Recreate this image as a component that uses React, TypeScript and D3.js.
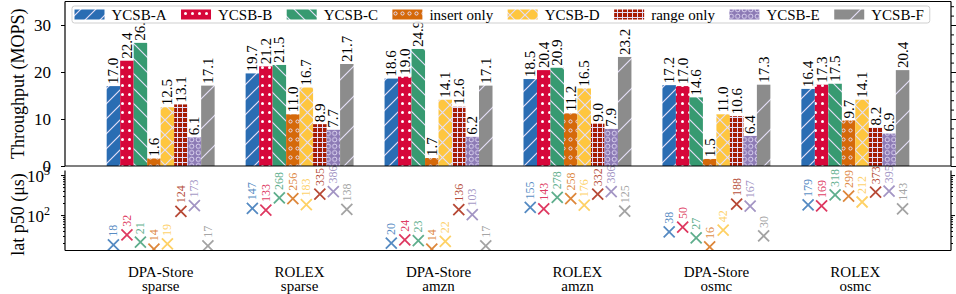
import React, { useEffect, useRef } from 'react';
import * as d3 from 'd3';

const systems = ['DPA-Store', 'ROLEX', 'DPA-Store', 'ROLEX', 'DPA-Store', 'ROLEX'];
const datasets = ['sparse', 'sparse', 'amzn', 'amzn', 'osmc', 'osmc'];
const workloads = ['YCSB-A', 'YCSB-B', 'YCSB-C', 'insert only', 'YCSB-D', 'range only', 'YCSB-E', 'YCSB-F'];
const colors = ['#2a6db3', '#d6073a', '#379a71', '#d5690a', '#fec63f', '#a51b04', '#8c7ab5', '#8c8c8c'];
const hatches = ['//', '.', '\\\\', 'o', 'x', '+', 'O', '/'];

// throughput in MOPS, one row per group, one entry per workload
const throughput = [
  [17.0, 22.4, 26.2, 1.6, 12.5, 13.1, 6.1, 17.1],
  [19.7, 21.2, 21.5, 11.0, 16.7, 8.9, 7.7, 21.7],
  [18.6, 19.0, 24.9, 1.7, 14.1, 12.6, 6.2, 17.1],
  [18.5, 20.4, 20.9, 11.2, 16.5, 9.0, 7.9, 23.2],
  [17.2, 17.0, 14.6, 1.5, 11.0, 10.6, 6.4, 17.3],
  [16.4, 17.3, 17.5, 9.7, 14.1, 8.2, 6.9, 20.4],
];

// median latency in microseconds
const latencyP50 = [
  [18, 32, 21, 14, 19, 124, 173, 17],
  [147, 133, 268, 256, 183, 335, 386, 138],
  [20, 24, 23, 14, 22, 136, 103, 17],
  [155, 143, 278, 258, 176, 332, 386, 125],
  [38, 50, 27, 16, 42, 188, 167, 30],
  [179, 169, 318, 299, 212, 373, 395, 143],
];

const throughputTicks = [0, 10, 20, 30];
const throughputMinor = d3.range(0, 35, 2);
const latencyTicks = [100, 1000];
const latencyMinor = [20, 30, 40, 50, 60, 70, 80, 90, 200, 300, 400, 500, 600, 700, 800, 900];

const W = 956;
const H = 294;
const FONT = "'Liberation Serif', 'DejaVu Serif', serif";
const INK = '#e4def7';

const left = 65;
const right = 951;
const top1 = 1.5;
const bottom1 = 166;
const top2 = 170.5;
const bottom2 = 250.5;

function addPatterns(defs) {
  hatches.forEach((h, i) => {
    const id = `hatch-${i}`;
    let w = 15;
    let ht = 15;
    if (h === '/') { w = 30; ht = 30; }
    if (h === '.') { w = 7; ht = 9; }
    if (h === 'o') { w = 7; ht = 9; }
    if (h === '+') { w = 5; ht = 5; }
    if (h === 'O') { w = 6.5; ht = 6.5; }
    const p = defs
      .append('pattern')
      .attr('id', id)
      .attr('patternUnits', 'userSpaceOnUse')
      .attr('width', w)
      .attr('height', ht);
    p.append('rect').attr('width', w).attr('height', ht).attr('fill', colors[i]);
    const s = w;
    const fwd = `M0,${s}L${s},0M${-s / 2},${s / 2}L${s / 2},${-s / 2}M${s / 2},${1.5 * s}L${1.5 * s},${s / 2}`;
    const back = `M0,0L${s},${s}M${-s / 2},${s / 2}L${s / 2},${1.5 * s}M${s / 2},${-s / 2}L${1.5 * s},${s / 2}`;
    if (h === '//' || h === '/') {
      p.append('path').attr('d', fwd).attr('stroke', INK).attr('stroke-width', 1.2);
    } else if (h === '\\\\') {
      p.append('path').attr('d', back).attr('stroke', INK).attr('stroke-width', 1.2);
    } else if (h === 'x') {
      p.append('path').attr('d', fwd + back).attr('stroke', INK).attr('stroke-width', 1.2);
    } else if (h === '.') {
      p.append('circle').attr('cx', w / 2).attr('cy', ht / 2).attr('r', 1.5).attr('fill', '#fff');
    } else if (h === 'o') {
      p.append('circle').attr('cx', w / 2).attr('cy', ht / 2).attr('r', 1.6)
        .attr('fill', 'none').attr('stroke', INK).attr('stroke-width', 1);
    } else if (h === 'O') {
      p.append('circle').attr('cx', w / 2).attr('cy', ht / 2).attr('r', 2.2)
        .attr('fill', 'none').attr('stroke', INK).attr('stroke-width', 0.9);
    } else if (h === '+') {
      p.append('path').attr('d', `M0,${ht / 2}H${w}M${w / 2},0V${ht}`)
        .attr('stroke', INK).attr('stroke-width', 1);
    }
  });
}

function styleAxis(g, fontSize = 17) {
  g.select('.domain').remove();
  g.selectAll('line').attr('stroke', '#000').attr('stroke-width', 1);
  g.selectAll('text').attr('font-family', FONT).attr('font-size', fontSize).attr('fill', '#000');
}

export default function App() {
  const ref = useRef<SVGSVGElement>(null);

  useEffect(() => {
    const svg = d3.select(ref.current);
    svg.selectAll('*').remove();
    addPatterns(svg.append('defs'));

    const x0 = d3.scaleBand<number>()
      .domain(d3.range(systems.length))
      .range([left, right])
      .paddingInner(0.223)
      .paddingOuter(0.3);
    const x1 = d3.scaleBand<string>().domain(workloads).range([0, x0.bandwidth()]);
    const y = d3.scaleLinear().domain([0, 35]).range([bottom1, top1]);
    const yLat = d3.scaleLog().domain([13, 1300]).range([bottom2, top2]);
    const cx = (gi, i) => x0(gi) + x1(workloads[i]) + x1.bandwidth() / 2;

    svg.append('clipPath').attr('id', 'lat-clip')
      .append('rect')
      .attr('x', left).attr('y', top2)
      .attr('width', right - left).attr('height', bottom2 - top2);

    // ---- bottom panel: latency markers ----
    const marks = svg.append('g').attr('clip-path', 'url(#lat-clip)');
    const labels = svg.append('g');
    latencyP50.forEach((row, gi) => {
      marks.selectAll(`path.mk-${gi}`)
        .data(row)
        .enter()
        .append('path')
        .attr('class', `mk-${gi}`)
        .attr('d', (d, i) => {
          const px = cx(gi, i);
          const py = yLat(d);
          const r = 5.5;
          return `M${px - r},${py - r}L${px + r},${py + r}M${px - r},${py + r}L${px + r},${py - r}`;
        })
        .attr('stroke', (d, i) => colors[i])
        .attr('stroke-opacity', 0.8)
        .attr('stroke-width', 1.8)
        .attr('fill', 'none');
      labels.selectAll(`text.lv-${gi}`)
        .data(row)
        .enter()
        .append('text')
        .attr('class', `lv-${gi}`)
        .attr('transform', (d, i) => `translate(${cx(gi, i)},${yLat(d) - 8}) rotate(-90)`)
        .attr('dominant-baseline', 'central')
        .attr('font-family', FONT)
        .attr('font-size', 12)
        .attr('fill', (d, i) => colors[i])
        .attr('fill-opacity', 0.8)
        .text((d) => d);
    });

    // ---- top panel: throughput bars ----
    const bars = svg.append('g');
    throughput.forEach((row, gi) => {
      bars.selectAll(`rect.b-${gi}`)
        .data(row)
        .enter()
        .append('rect')
        .attr('class', `b-${gi}`)
        .attr('x', (d, i) => x0(gi) + x1(workloads[i]))
        .attr('y', (d) => y(d))
        .attr('width', x1.bandwidth())
        .attr('height', (d) => y(0) - y(d))
        .attr('fill', (d, i) => `url(#hatch-${i})`);
      bars.selectAll(`text.v-${gi}`)
        .data(row)
        .enter()
        .append('text')
        .attr('class', `v-${gi}`)
        .attr('transform', (d, i) => `translate(${cx(gi, i)},${y(d) - 2}) rotate(-90)`)
        .attr('dominant-baseline', 'central')
        .attr('font-family', FONT)
        .attr('font-size', 15)
        .attr('fill', '#000')
        .text((d) => d3.format('.1f')(d));
    });

    // ---- axes ----
    const ax = svg.append('g');
    ax.append('g')
      .attr('transform', `translate(${left},0)`)
      .call(d3.axisLeft(y).tickValues(throughputTicks).tickSize(4).tickPadding(10).tickFormat(d3.format('d')))
      .call((g) => styleAxis(g));
    ax.append('g')
      .attr('transform', `translate(${right},0)`)
      .call(d3.axisRight(y).tickValues(throughputMinor).tickSize(3).tickFormat(() => ''))
      .call((g) => styleAxis(g));
    ax.append('g')
      .attr('transform', `translate(${right},0)`)
      .call(d3.axisRight(y).tickValues(throughputTicks).tickSize(5).tickFormat(() => ''))
      .call((g) => styleAxis(g));

    const latLeft = ax.append('g')
      .attr('transform', `translate(${left},0)`)
      .call(d3.axisLeft(yLat).tickValues(latencyTicks).tickSize(4).tickFormat(() => ''))
      .call((g) => styleAxis(g));
    latLeft.selectAll('g.tick')
      .append('text')
      .attr('x', -15)
      .attr('y', 6)
      .attr('text-anchor', 'end')
      .attr('font-family', FONT)
      .attr('font-size', 17)
      .attr('fill', '#000')
      .each(function (d) {
        const t = d3.select(this);
        t.append('tspan').text('10');
        t.append('tspan')
          .attr('font-size', 12)
          .attr('dy', -7)
          .text(String(Math.round(Math.log10(d))));
      });
    ax.append('g')
      .attr('transform', `translate(${left},0)`)
      .call(d3.axisLeft(yLat).tickValues(latencyMinor).tickSize(2).tickFormat(() => ''))
      .call((g) => styleAxis(g));
    ax.append('g')
      .attr('transform', `translate(${right},0)`)
      .call(d3.axisRight(yLat).tickValues(latencyTicks).tickSize(4).tickFormat(() => ''))
      .call((g) => styleAxis(g));
    ax.append('g')
      .attr('transform', `translate(${right},0)`)
      .call(d3.axisRight(yLat).tickValues(latencyMinor).tickSize(2).tickFormat(() => ''))
      .call((g) => styleAxis(g));

    // spines
    const spine = (ax1, ay1, ax2, ay2) =>
      ax.append('line')
        .attr('x1', ax1).attr('y1', ay1).attr('x2', ax2).attr('y2', ay2)
        .attr('stroke', '#000').attr('stroke-width', 1.2);
    spine(left, top1, right, top1);
    spine(left, bottom1, right, bottom1);
    spine(left, top1, left, bottom1);
    spine(right, top1, right, bottom1);
    spine(left, bottom2, right, bottom2);
    spine(left, top2, left, bottom2);
    spine(right, top2, right, bottom2);

    // axis titles
    svg.append('text')
      .attr('transform', `translate(18,${(top1 + bottom1) / 2}) rotate(-90)`)
      .attr('text-anchor', 'middle')
      .attr('dominant-baseline', 'central')
      .attr('font-family', FONT)
      .attr('font-size', 18)
      .text('Throughput (MOPS)');
    svg.append('text')
      .attr('transform', `translate(18,${(top2 + bottom2) / 2 + 4}) rotate(-90)`)
      .attr('text-anchor', 'middle')
      .attr('dominant-baseline', 'central')
      .attr('font-family', FONT)
      .attr('font-size', 18)
      .text('lat p50 (μs)');

    // group labels
    const cat = svg.append('g');
    systems.forEach((s, gi) => {
      const gx = x0(gi) + x0.bandwidth() / 2;
      const t = cat.append('text')
        .attr('text-anchor', 'middle')
        .attr('font-family', FONT)
        .attr('font-size', 15);
      t.append('tspan').attr('x', gx).attr('y', 277).text(s);
      t.append('tspan').attr('x', gx).attr('y', 290.5).text(datasets[gi]);
    });

    // legend
    const legend = svg.append('g');
    const box = legend.append('rect')
      .attr('x', 72).attr('y', 6).attr('height', 17).attr('rx', 2.5)
      .attr('fill', '#fff').attr('fill-opacity', 0.9)
      .attr('stroke', '#cfcfcf').attr('stroke-width', 1);
    let lx = 74.5;
    workloads.forEach((w, i) => {
      legend.append('rect')
        .attr('x', lx).attr('y', 9.5).attr('width', 30).attr('height', 10)
        .attr('fill', `url(#hatch-${i})`);
      const t = legend.append('text')
        .attr('x', lx + 37).attr('y', 19.5)
        .attr('font-family', FONT).attr('font-size', 15)
        .text(w);
      const tw = (t.node() as SVGTextElement).getComputedTextLength();
      lx = lx + 37 + tw + (i < workloads.length - 1 ? 14.5 : 6);
    });
    box.attr('width', lx - 72);
  }, []);

  return (
    <svg
      ref={ref}
      width={W}
      height={H}
      style={{ position: 'absolute', left: 0, top: 0, background: '#fff' }}
    />
  );
}
